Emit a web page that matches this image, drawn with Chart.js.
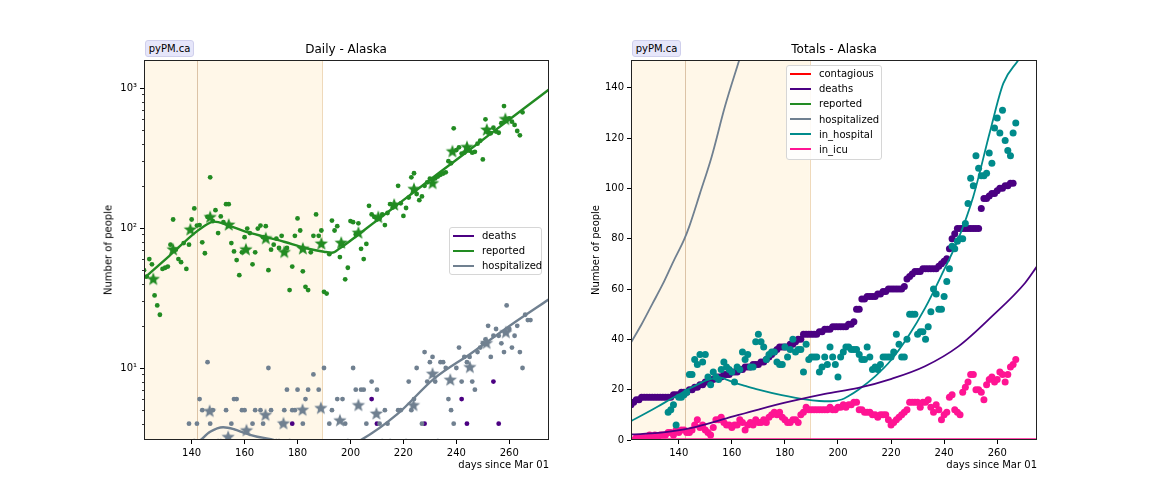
<!DOCTYPE html>
<html>
<head>
<meta charset="utf-8">
<script src="https://cdn.jsdelivr.net/npm/chart.js@4.4.1/dist/chart.umd.min.js"></script>
<style>
  body { margin:0; width:1152px; height:504px; position:relative; background:#fff; overflow:hidden;
         font-family:"DejaVu Sans", sans-serif; color:#000; }
  canvas { position:absolute; top:0; }
  .txt { position:absolute; font-size:10px; white-space:nowrap; }
  .title { position:absolute; font-size:12px; white-space:nowrap; transform:translateX(-50%); }
  .badge { position:absolute; font-size:10px; background:#e6e6fa; border:1px solid #cfcfec;
           border-radius:3px; height:15px; line-height:15px; text-align:center; }
  .ylab { position:absolute; font-size:10px; white-space:nowrap; transform:translate(-50%,-50%) rotate(-90deg); }
  .legend { position:absolute; background:rgba(255,255,255,0.85); border:1px solid #d6d6d6; border-radius:3px;
            font-size:10px; box-sizing:border-box; padding-top:0px; }
  .legend .row { height:15.2px; line-height:15.2px; position:relative; }
  .legend .sw { position:absolute; left:3px; top:6.5px; width:21px; height:2px; }
  .legend .lb { position:absolute; left:32px; top:0; }
</style>
</head>
<body>
<canvas id="daily" width="576" height="504" style="left:0"></canvas>
<canvas id="totals" width="576" height="504" style="left:576px"></canvas>

<div class="badge" style="left:145px;top:40px;width:47px">pyPM.ca</div>
<div class="badge" style="left:632px;top:40px;width:47px">pyPM.ca</div>
<div class="title" style="left:346px;top:42px">Daily - Alaska</div>
<div class="title" style="left:834px;top:42px">Totals - Alaska</div>
<div class="ylab" style="left:108px;top:250px">Number of people</div>
<div class="ylab" style="left:595px;top:250px">Number of people</div>
<div class="txt" style="right:603px;top:459px">days since Mar 01</div>
<div class="txt" style="right:115px;top:459px">days since Mar 01</div>
<div class="legend" id="legDaily" style="left:449px;top:227px;width:93px;height:48px"></div>
<div class="legend" id="legTotals" style="left:786px;top:65px;width:96px;height:95px"></div>

<script>
// ---- data (days since Mar 01) ----
var xTicks = [140, 160, 180, 200, 220, 240, 260];
var logTicks = [4, 5, 6, 7, 8, 9, 10, 20, 30, 40, 50, 60, 70, 80, 90, 100, 200, 300, 400, 500, 600, 700, 800, 900, 1000];
var logLabels = { 10: "10\u00b9", 100: "10\u00b2", 1000: "10\u00b3" };
var totalTicks = [0, 20, 40, 60, 80, 100, 120, 140];

var shadeFrom = 122, shadeTo = 189.4;
var markerDays = [142.2, 189.4];

// daily reported, from day 122
var reportedStart = 122;
var reportedDaily = [
  50, 45, 60, 55, 33, 28, 24, 51, 52, 53,
  76, 115, 70, 60, 57, 78, 51, 76, 115, 138,
  104, 105, 79, 66, 120, 230, 112, 134, 92, 121,
  110, 148, 148, 78, 68, 59, 46, 67, 86, 99,
  92, 55, 67, 99, 104, 86, 103, 50, 70, 76,
  84, 72, 88, 67, 72, 36, 53, 88, 117, 96,
  49, 38, 36, 67, 88, 125, 88, 96, 35, 34,
  65, 113, 96, 103, 62, 75, 43, 52, 112, 110,
  90, 108, 71, 60, 77, 144, 125, 120, 115, 117,
  125, 105, 128, 148, 140, 145, 200, 150, 122, 139,
  165, 230, 246, 175, 158, 168, 200, 212, 225, 220,
  226, 233, 240, 245, 250, 300, 290, 515, 360, 377,
  340, 345, 360, 357, 345, 350, 400, 420, 309, 597,
  480, 475, 520, 488, 479, 560, 743, 600, 607, 575,
  545, 493, 459, 670
];
var reportedStarDays = [125.5, 133, 139.5, 147, 154, 160.5, 168, 175, 182, 189, 196.5, 203, 210.5, 216.5, 224, 231, 238.5, 244, 251.5, 258.5];
var reportedStarVals = [43, 70, 97, 119, 105, 70, 84, 67, 71, 77, 78, 92, 119, 146, 189, 208, 351, 377, 501, 597];
var reportedModelDays = [122, 131.5, 141, 144, 148.5, 153.5, 159.8, 167.4, 174.9, 182.5, 190, 193, 196, 205, 215, 225, 234, 245, 253, 265, 275];
var reportedModelVals = [43.7, 63, 91.6, 101, 111, 105, 95, 86.7, 79.8, 72.3, 67.7, 66.5, 71.7, 96, 134, 187, 252, 362, 472, 702, 977];

// daily hospitalized, from day 139
var hospStart = 139;
var hospDaily = [
  4, 2, 3, 4, 6, 5, 2, 11, 4, 5,
  2, 3, 3, 2, 5, 2, 4, 6, 6, 2,
  5, 5, 2, 2, 4, 5, 2, 5, 4, 2,
  10, 5, 2, 3, 3, 4, 5, 7, 3, 5,
  5, 7, 2, 4, 6, 7, 2, 9, 2, 7,
  2, 10, 2, 4, 5, 2, 6, 2, 6, 4,
  3, 2, 10, 7, 2, 7, 7, 4, 2, 8,
  2, 7, 4, 3, 5, 4, 3, 2, 2, 5,
  5, 2, 3, 8, 5, 6, 10, 2, 4, 13,
  8, 11, 12, 8, 3, 11, 11, 10, 6, 5,
  4, 10, 14, 8, 12, 11, 12, 8, 7, 13,
  14, 15, 16, 20, 12, 17, 19, 17, 15, 13,
  28, 19, 14, 17, 20, 13, 10, 24, 22, 22
];
var hospStarDays = [146.8, 153.8, 160.7, 167.9, 174.7, 181.9, 188.8, 196, 203, 209.8, 223.8, 231, 237.7, 245.1, 251.4, 258.7];
var hospStarVals = [4.9, 3.2, 3.57, 4.6, 4.0, 5.0, 5.15, 4.2, 5.4, 4.7, 5.4, 9.05, 8.2, 10.1, 15, 17.9];
var hospModelDays = [141, 143.4, 147, 151.9, 156, 160.4, 164.8, 169.9, 175, 185, 195, 203.9, 217.8, 231.6, 245.5, 260.6, 275];
var hospModelVals = [2.8, 3.06, 3.5, 3.77, 3.65, 3.41, 3.23, 3.1, 2.9, 2.6, 2.6, 3.06, 4.7, 8.4, 12.7, 20.3, 31];

// daily deaths (only the days that reach the visible range)
var deathDays = [178, 208, 210, 228, 242, 244, 254, 256];
var deathVals = [4, 6, 4, 4, 6, 4, 8, 4];

// totals
var deathsCumStart = 122;
var deathsCum = [
  14, 15, 16, 16, 17, 17, 17, 17, 17, 17,
  17, 17, 17, 17, 17, 17, 18, 18, 18, 19,
  19, 19, 20, 20, 21, 21, 22, 22, 23, 23,
  24, 24, 25, 25, 25, 26, 26, 26, 27, 27,
  27, 28, 28, 29, 29, 29, 30, 30, 30, 31,
  31, 32, 33, 34, 35, 36, 37, 37, 37, 37,
  38, 38, 39, 40, 40, 42, 42, 42, 42, 42,
  42, 43, 43, 44, 44, 44, 45, 45, 45, 45,
  45, 45, 46, 46, 47, 52, 52, 56, 56, 57,
  57, 57, 57, 58, 58, 59, 59, 60, 60, 60,
  60, 60, 60, 61, 64, 65, 66, 67, 67, 67,
  68, 68, 68, 68, 68, 68, 69, 70, 71, 72,
  76, 80, 82, 84, 84, 84, 84, 84, 84, 84,
  84, 84, 92, 96, 96, 97, 98, 98, 99, 100,
  100, 101, 101, 102, 102
];
var inHospStart = 136;
var inHosp = [
  11, 12, 14, 6, 17, 17, 18, 19, 26, 26,
  32, 30, 34, 31, 34, 25, 22, 27, 25, 24,
  28, 31, 29, 28, 27, 23, 29, 28, 35, 32,
  34, 29, 29, 39, 42, 39, 37, 32, 34, 35,
  35, 31, 30, 30, 37, 33, 36, 40, 35, 36,
  36, 27, 38, 32, 33, 33, 33, 27, 29, 33,
  30, 37, 33, 30, 25, 33, 35, 37, 37, 36,
  36, 36, 34, 32, 32, 37, 33, 28, 29, 28,
  30, 33, 33, 33, 33, 35, 42, 38, 33, 33,
  40, 50, 50, 50, 42, 43, 43, 40, 45, 51,
  60, 58, 52, 52, 57, 63, 68, 77, 76, 79,
  80, 80, 86, 94, 104, 101, 113, 108, 105, 105,
  106, 114, 110, 124, 128, 122, 131, 119, 115, 113,
  122, 126
];
var icuStart = 122;
var inIcu = [
  0, 0, 1, 0, 1, 1, 1, 2, 1, 2,
  1, 2, 2, 2, 3, 3, 2, 4, 3, 4,
  4, 3, 3, 4, 6, 8, 5, 6, 4, 3,
  2, 5, 8, 8, 9, 7, 6, 6, 5, 6,
  6, 8, 7, 4, 6, 7, 6, 8, 7, 7,
  8, 7, 9, 10, 11, 10, 11, 9, 8, 7,
  7, 8, 8, 7, 10, 11, 13, 12, 12, 12,
  12, 12, 12, 12, 12, 13, 12, 12, 13, 13,
  14, 13, 14, 14, 15, 15, 12, 12, 11, 11,
  11, 10, 10, 9, 10, 10, 10, 8, 6, 7,
  8, 9, 10, 11, 12, 15, 15, 15, 15, 13,
  15, 15, 16, 13, 11, 14, 12, 8, 10, 11,
  17, 18, 12, 11, 10, 19, 21, 23, 26, 26,
  20, 20, 19, 16, 22, 24, 25, 23, 24, 27,
  26, 23, 26, 29, 30, 32
];
var hospCumModelDays = [122, 126, 130, 134, 138, 142, 144, 148, 152.4, 157.4, 162.8, 166];
var hospCumModelVals = [38.7, 46, 54, 62, 71, 79.6, 85, 98, 112.6, 132.5, 151, 162];
var inHospModelDays = [122, 127, 132.3, 137, 142.3, 147, 151.1, 154, 156.2, 158, 161.2, 165, 170, 178.8, 187.6, 193, 197.6, 201.4, 204, 207.7, 214, 220.2, 226.5, 232.8, 239.1, 245, 251, 257.3, 262.3, 268];
var inHospModelVals = [7.5, 10.3, 13.4, 16.3, 19.4, 22, 24, 24.6, 24.7, 24, 22.7, 21.5, 20, 17.8, 16.1, 15.5, 15.4, 16.1, 17.5, 20, 25.3, 32, 41.2, 52.4, 65.7, 79, 96.8, 122.6, 141.7, 151];
var deathsModelDays = [122, 132.3, 144.9, 158, 170, 182.5, 195.1, 207.7, 220.2, 232.8, 245.4, 258, 270.5, 275];
var deathsModelVals = [2.2, 2.8, 4.8, 8.6, 12.1, 15.4, 18.3, 20.7, 24.3, 29.3, 37.2, 49.1, 62.4, 69];
var icuModelDays = [122, 275];
var icuModelVals = [0.3, 0.3];

// ---- colours ----
var C = {
  contagious: "#ff0000", deaths: "#4b0082", reported: "#228b22",
  hospitalized: "#708090", in_hospital: "#008b8b", in_icu: "#ff1493"
};

Chart.defaults.font.family = "'DejaVu Sans', sans-serif";
Chart.defaults.font.size = 10;
Chart.defaults.color = "#000";

function daily(start, vals) {
  return vals.map(function (v, i) { return { x: start + i, y: v }; });
}
function pairs(days, vals) {
  return days.map(function (d, i) { return { x: d, y: vals[i] }; });
}
function makeStar(color, r) {
  var c = document.createElement("canvas");
  var s = Math.ceil(r * 2 + 2);
  c.width = c.height = s;
  var g = c.getContext("2d");
  g.beginPath();
  for (var i = 0; i < 10; i++) {
    var a = -Math.PI / 2 + i * Math.PI / 5;
    var rr = i % 2 ? r * 0.42 : r;
    g.lineTo(s / 2 + rr * Math.cos(a), s / 2 + rr * Math.sin(a));
  }
  g.closePath();
  g.fillStyle = color;
  g.fill();
  return c;
}

var decor = {
  id: "decor",
  beforeDatasetsDraw: function (chart) {
    var ctx = chart.ctx, a = chart.chartArea, x = chart.scales.x;
    ctx.save();
    ctx.beginPath();
    ctx.rect(a.left, a.top, a.right - a.left, a.bottom - a.top);
    ctx.clip();
    var x0 = x.getPixelForValue(shadeFrom), x1 = x.getPixelForValue(shadeTo);
    ctx.fillStyle = "rgba(255,165,0,0.09)";
    ctx.fillRect(x0, a.top, x1 - x0, a.bottom - a.top);
    var cols = ["#dcc3a6", "#efd9ba"];
    markerDays.forEach(function (d, i) {
      var px = Math.round(x.getPixelForValue(d)) + 0.5;
      ctx.strokeStyle = cols[i];
      ctx.lineWidth = 1;
      ctx.beginPath();
      ctx.moveTo(px, a.top);
      ctx.lineTo(px, a.bottom);
      ctx.stroke();
    });
    ctx.restore();
  },
  afterDatasetsDraw: function (chart) {
    var ctx = chart.ctx, a = chart.chartArea, y = chart.scales.y;
    ctx.save();
    ctx.strokeStyle = "#222";
    ctx.lineWidth = 1;
    ctx.strokeRect(Math.round(a.left) + 0.5, Math.round(a.top) + 0.5,
                   Math.round(a.right - a.left) - 1, Math.round(a.bottom - a.top) - 1);
    if (y.type === "logarithmic") {
      ctx.strokeStyle = "#000";
      ctx.lineWidth = 0.8;
      logTicks.forEach(function (v) {
        if (logLabels[v]) return;
        var py = Math.round(y.getPixelForValue(v)) + 0.5;
        ctx.beginPath();
        ctx.moveTo(a.left - 2, py);
        ctx.lineTo(a.left, py);
        ctx.stroke();
      });
    }
    ctx.restore();
  }
};

function xScale() {
  return {
    type: "linear", min: 122, max: 275,
    afterBuildTicks: function (s) { s.ticks = xTicks.map(function (v) { return { value: v }; }); },
    afterFit: function (s) { s.height = 30; },
    ticks: { padding: 3, maxRotation: 0, callback: function (v) { return String(v); } },
    grid: { drawOnChartArea: false, tickLength: 4, tickColor: "#000" },
    border: { display: false }
  };
}

var dotsL = { pointRadius: 2.4, pointHoverRadius: 2.4, borderWidth: 0, showLine: false, clip: 0 };
var dotsR = { pointRadius: 3.5, pointHoverRadius: 3.5, borderWidth: 0, showLine: false, clip: 0 };
function line(color, w) {
  return { showLine: true, pointRadius: 0, borderColor: color, borderWidth: w,
           cubicInterpolationMode: "monotone", clip: 0, fill: false };
}

new Chart(document.getElementById("daily"), {
  type: "scatter",
  data: {
    datasets: [
      Object.assign({ label: "reported", data: daily(reportedStart, reportedDaily), backgroundColor: C.reported, order: 5 }, dotsL),
      Object.assign({ label: "hospitalized", data: daily(hospStart, hospDaily), backgroundColor: C.hospitalized, order: 5 }, dotsL),
      Object.assign({ label: "deaths", data: pairs(deathDays, deathVals), backgroundColor: C.deaths, order: 5 }, dotsL),
      { label: "reported avg", data: pairs(reportedStarDays, reportedStarVals), pointStyle: makeStar(C.reported, 7), showLine: false, clip: 0, order: 3 },
      { label: "hospitalized avg", data: pairs(hospStarDays, hospStarVals), pointStyle: makeStar(C.hospitalized, 7), showLine: false, clip: 0, order: 3 },
      Object.assign({ label: "reported model", data: pairs(reportedModelDays, reportedModelVals), order: 1 }, line(C.reported, 2.4)),
      Object.assign({ label: "hospitalized model", data: pairs(hospModelDays, hospModelVals), order: 1 }, line(C.hospitalized, 2.4))
    ]
  },
  options: {
    responsive: false, animation: false,
    layout: { padding: { left: 104, right: 27, top: 60, bottom: 34 } },
    plugins: { legend: { display: false }, tooltip: { enabled: false } },
    scales: {
      x: xScale(),
      y: {
        type: "logarithmic", min: 3.06, max: 1585,
        afterBuildTicks: function (s) { s.ticks = logTicks.map(function (v) { return { value: v }; }); },
        afterFit: function (s) { s.width = 40; },
        ticks: { padding: 3, autoSkip: false, callback: function (v) { return logLabels[v] || ""; } },
        grid: {
          drawOnChartArea: false, tickLength: 4,
          tickColor: function (c) { return c.tick && logLabels[c.tick.value] ? "#000" : "rgba(0,0,0,0)"; }
        },
        border: { display: false }
      }
    }
  },
  plugins: [decor]
});

new Chart(document.getElementById("totals"), {
  type: "scatter",
  data: {
    datasets: [
      Object.assign({ label: "in_icu", data: daily(icuStart, inIcu), backgroundColor: C.in_icu, order: 6 }, dotsR),
      Object.assign({ label: "deaths", data: daily(deathsCumStart, deathsCum), backgroundColor: C.deaths, order: 5 }, dotsR),
      Object.assign({ label: "in_hospital", data: daily(inHospStart, inHosp), backgroundColor: C.in_hospital, order: 4 }, dotsR),
      Object.assign({ label: "contagious model", data: [], order: 1 }, line(C.contagious, 1.8)),
      Object.assign({ label: "deaths model", data: pairs(deathsModelDays, deathsModelVals), order: 1 }, line(C.deaths, 1.8)),
      Object.assign({ label: "reported model", data: [], order: 1 }, line(C.reported, 1.8)),
      Object.assign({ label: "hospitalized model", data: pairs(hospCumModelDays, hospCumModelVals), order: 1 }, line(C.hospitalized, 1.8)),
      Object.assign({ label: "in_hospital model", data: pairs(inHospModelDays, inHospModelVals), order: 1 }, line(C.in_hospital, 1.8)),
      Object.assign({ label: "in_icu model", data: pairs(icuModelDays, icuModelVals), order: 1 }, line(C.in_icu, 2))
    ]
  },
  options: {
    responsive: false, animation: false,
    layout: { padding: { left: 25, right: 115, top: 60, bottom: 34 } },
    plugins: { legend: { display: false }, tooltip: { enabled: false } },
    scales: {
      x: xScale(),
      y: {
        type: "linear", min: 0, max: 151,
        afterBuildTicks: function (s) { s.ticks = totalTicks.map(function (v) { return { value: v }; }); },
        afterFit: function (s) { s.width = 30; },
        ticks: { padding: 3, callback: function (v) { return String(v); } },
        grid: { drawOnChartArea: false, tickLength: 4, tickColor: "#000" },
        border: { display: false }
      }
    }
  },
  plugins: [decor]
});

function legend(id, names) {
  var el = document.getElementById(id);
  names.forEach(function (n) {
    var r = document.createElement("div");
    r.className = "row";
    r.innerHTML = '<span class="sw" style="background:' + C[n] + '"></span><span class="lb">' + n + "</span>";
    el.appendChild(r);
  });
}
legend("legDaily", ["deaths", "reported", "hospitalized"]);
legend("legTotals", ["contagious", "deaths", "reported", "hospitalized", "in_hospital", "in_icu"]);
</script>
</body>
</html>
